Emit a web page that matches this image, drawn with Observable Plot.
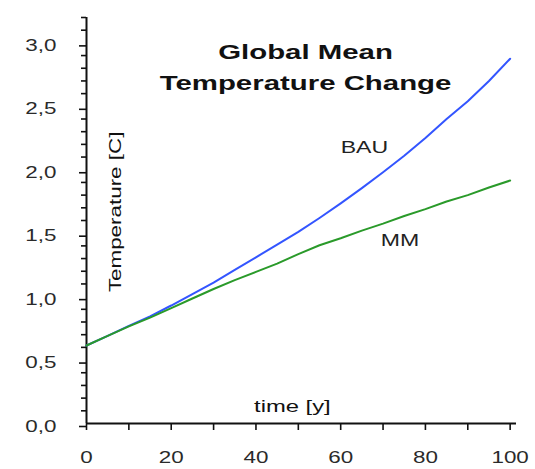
<!DOCTYPE html>
<html>
<head>
<meta charset="utf-8">
<script src="https://cdn.jsdelivr.net/npm/d3@7"></script>
<script src="https://cdn.jsdelivr.net/npm/@observablehq/plot@0.6"></script>
<style>
  body { margin: 0; background: #fff; }
  svg { display: block; }
</style>
</head>
<body>
<div id="chart"></div>
<script>
// ---- data ----
const years = [0, 5, 10, 15, 20, 25, 30, 35, 40, 45, 50, 55, 60, 65, 70, 75, 80, 85, 90, 95, 100];
const bau   = [0.615, 0.69, 0.77, 0.845, 0.93, 1.02, 1.11, 1.21, 1.31, 1.41, 1.51, 1.62, 1.735, 1.855, 1.98, 2.11, 2.25, 2.40, 2.54, 2.70, 2.875];
const mm    = [0.615, 0.69, 0.765, 0.835, 0.91, 0.985, 1.06, 1.13, 1.195, 1.26, 1.335, 1.405, 1.46, 1.52, 1.575, 1.635, 1.69, 1.75, 1.80, 1.86, 1.915];
const seriesNames = ["BAU", "MM"];
const xLabelTicks = [0, 20, 40, 60, 80, 100];
const xMinorTicks = [0, 10, 20, 30, 40, 50, 60, 70, 80, 90, 100];
const yMajorTicks = [0, 0.5, 1.0, 1.5, 2.0, 2.5, 3.0];
const yMinorTicks = [0.1, 0.2, 0.3, 0.4, 0.6, 0.7, 0.8, 0.9, 1.1, 1.2, 1.3, 1.4, 1.6, 1.7, 1.8, 1.9, 2.1, 2.2, 2.3, 2.4, 2.6, 2.7, 2.8, 2.9, 3.1, 3.2];
const titleLines = ["Global Mean", "Temperature Change"];
const xTitle = "time [y]";
const yTitle = "Temperature [C]";

const bauRows = years.map((t, i) => ({t, v: bau[i], s: seriesNames[0]}));
const mmRows  = years.map((t, i) => ({t, v: mm[i],  s: seriesNames[1]}));
const fmt = d => d.toFixed(1).replace(".", ",");
const FONT = "Liberation Sans, Arial, sans-serif";

const svg = Plot.plot({
  width: 535,
  height: 469,
  marginLeft: 86,
  marginRight: 19,
  marginTop: 17,
  marginBottom: 46,
  style: {fontFamily: FONT, background: "#fff", color: "#111", overflow: "visible"},
  x: {domain: [0, 101.5]},
  y: {domain: [0, 3.2]},
  color: {domain: seriesNames, range: ["#3355ff", "#2a9a2a"]},
  marks: [
    // axis lines
    Plot.ruleX([0], {stroke: "#111", strokeWidth: 2}),
    Plot.ruleY([0], {stroke: "#111", strokeWidth: 2}),
    // x ticks and labels
    Plot.axisX({ticks: xMinorTicks, tickSize: 7, tickFormat: () => "", label: null, strokeWidth: 1.6, stroke: "#111"}),
    Plot.axisX({ticks: xLabelTicks, tickSize: 0, tickPadding: 28, tickFormat: d => String(d), label: null, fontSize: 16, fill: "#2a2a2a"}),
    // y ticks and labels
    Plot.axisY({ticks: yMinorTicks, tickSize: 5, tickFormat: () => "", label: null, strokeWidth: 1.6, stroke: "#111"}),
    Plot.axisY({ticks: yMajorTicks, tickSize: 7, tickPadding: 23, tickFormat: fmt, label: null, fontSize: 16, fill: "#2a2a2a", dy: 3, strokeWidth: 1.6, stroke: "#111"}),
    // series
    Plot.line(bauRows, {x: "t", y: "v", stroke: "s", strokeWidth: 2}),
    Plot.line(mmRows,  {x: "t", y: "v", stroke: "s", strokeWidth: 2}),
    // series labels
    Plot.text([seriesNames[0]], {x: 65.6, y: 2.177, text: d => d, fontSize: 16.5, fill: "#222"}),
    Plot.text([seriesNames[1]], {x: 74.0, y: 1.438, text: d => d, fontSize: 16.5, fill: "#222"}),
    // title
    Plot.text([titleLines.join("\n")], {x: 51.7, y: 2.832, text: d => d, fontSize: 21, fontWeight: "bold", lineHeight: 1.48, fill: "#111"}),
    // axis titles
    Plot.text([xTitle], {x: 48.6, y: 0.134, text: d => d, fontSize: 17, fill: "#111"}),
    Plot.text([yTitle], {x: 7.0, y: 1.668, text: d => d, rotate: -90, fontSize: 16, fill: "#111"})
  ]
});

// the reference text is drawn with wide letterforms: stretch glyphs along the text direction
const S = 1.4;
d3.select(svg).selectAll("text").each(function () {
  const x = parseFloat(this.getAttribute("x")) || 0;
  const y = parseFloat(this.getAttribute("y")) || 0;
  const t = this.getAttribute("transform") || "";
  this.setAttribute("transform", `${t} translate(${x},${y}) scale(${S},1) translate(${-x},${-y})`);
});

document.getElementById("chart").appendChild(svg);
</script>
</body>
</html>
